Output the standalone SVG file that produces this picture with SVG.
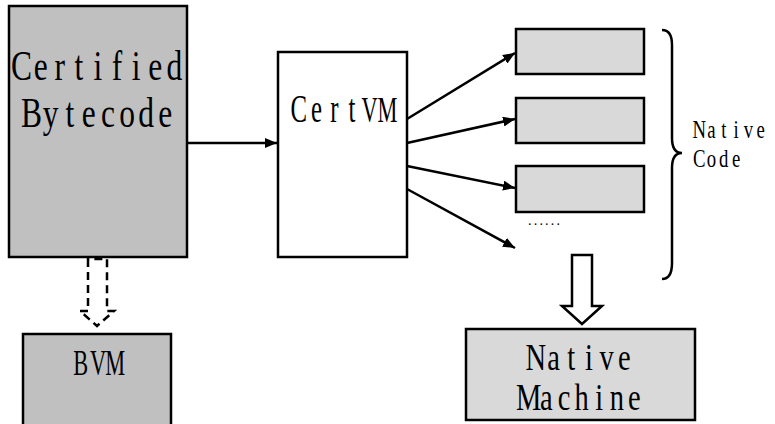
<svg xmlns="http://www.w3.org/2000/svg" width="775" height="424" viewBox="0 0 775 424">
<defs>
<marker id="ah" viewBox="0 0 12 10" refX="12" refY="5" markerWidth="12" markerHeight="10" markerUnits="userSpaceOnUse" orient="auto">
<path d="M0,0 L12,5 L0,10 Z" fill="#000"/>
</marker>
</defs>
<style>
.box{stroke:#000;stroke-width:2.5}
.dark{fill:#c0c0c0}
.light{fill:#d9d9d9}
.white{fill:#fff}
.t{font-family:"Liberation Serif","DejaVu Serif",serif;fill:#000;text-anchor:middle}
.big{font-size:42px}
.mid{font-size:38px}
.cap{font-size:36px}
.small{font-size:25px}
.conn{stroke:#000;stroke-width:2.5;fill:none}
.dash{stroke:#000;stroke-width:2.5;fill:none;stroke-dasharray:8,5}
</style>
<rect width="775" height="424" fill="#fff"/>
<g id="certified-bytecode">
<rect class="box dark" x="9" y="6" width="178" height="251"/>
<text class="t big" transform="translate(12,80) scale(0.75,1)" x="12.7 38.2 63.7 89.1 114.6 140.1 165.5 191 216.5" y="0">Certified</text>
<text class="t big" transform="translate(22,127) scale(0.75,1)" x="12.7 38.2 63.7 89.1 114.6 140.1 165.5 191" y="0">Bytecode</text>
</g>
<g id="bvm">
<rect class="box dark" x="23" y="334" width="148" height="100"/>
<text class="t cap" transform="translate(72,375) scale(0.62,1)" x="14 41.9 69.8" y="0">BVM</text>
</g>
<g id="certvm">
<rect class="box white" x="278" y="52" width="129" height="205"/>
<text class="t" font-size="40" transform="translate(290,122) scale(0.62,1)" x="14.3 42.8 71.4 99.9 128.5 157" y="0">Cert<tspan font-size="36">VM</tspan></text>
</g>
<g id="native-code-1"><rect class="box light" x="516" y="29" width="128" height="45"/></g>
<g id="native-code-2"><rect class="box light" x="516" y="98" width="128" height="45"/></g>
<g id="native-code-3"><rect class="box light" x="516" y="166" width="128" height="46"/></g>
<g id="native-code-label">
<text class="t" style="text-anchor:start" x="528" y="225" textLength="32" lengthAdjust="spacing" font-size="14">......</text>
<path class="conn" d="M662,30 Q672,30 672,45 L672,138 Q672,153 682,153 Q672,153 672,168 L672,263 Q672,279 662,279"/>
<text class="t small" transform="translate(693,138) scale(0.75,1)" x="8.2 24.6 41 57.4 73.8 90.2" y="0">Native</text>
<text class="t small" transform="translate(693,167) scale(0.75,1)" x="8.2 24.6 41 57.4" y="0">Code</text>
</g>
<g id="native-machine">
<rect class="box light" x="466" y="329" width="229" height="91"/>
<text class="t mid" transform="translate(527,370) scale(0.75,1)" x="11.8 35.4 59 82.6 106.2 129.8" y="0">Native</text>
<text class="t mid" transform="translate(520,410) scale(0.75,1)" x="11.7 35.2 58.7 82.1 105.6 129.1 152.5" y="0">Machine</text>
</g>
<g id="connectors">
<line class="conn" x1="187" y1="143" x2="277" y2="143" marker-end="url(#ah)"/>
<line class="conn" x1="407" y1="119" x2="515" y2="53" marker-end="url(#ah)"/>
<line class="conn" x1="407" y1="143" x2="515" y2="119" marker-end="url(#ah)"/>
<line class="conn" x1="407" y1="166" x2="515" y2="188" marker-end="url(#ah)"/>
<line class="conn" x1="407" y1="189" x2="515" y2="248" marker-end="url(#ah)"/>
<path class="dash" d="M88,259 L88,311 L80,311 L97,326 L114,311 L107,311 L107,259 Z"/>
<path class="conn" d="M572,255 L572,306 L562,306 L582,324 L602,306 L592,306 L592,255 Z"/>
</g>
</svg>
